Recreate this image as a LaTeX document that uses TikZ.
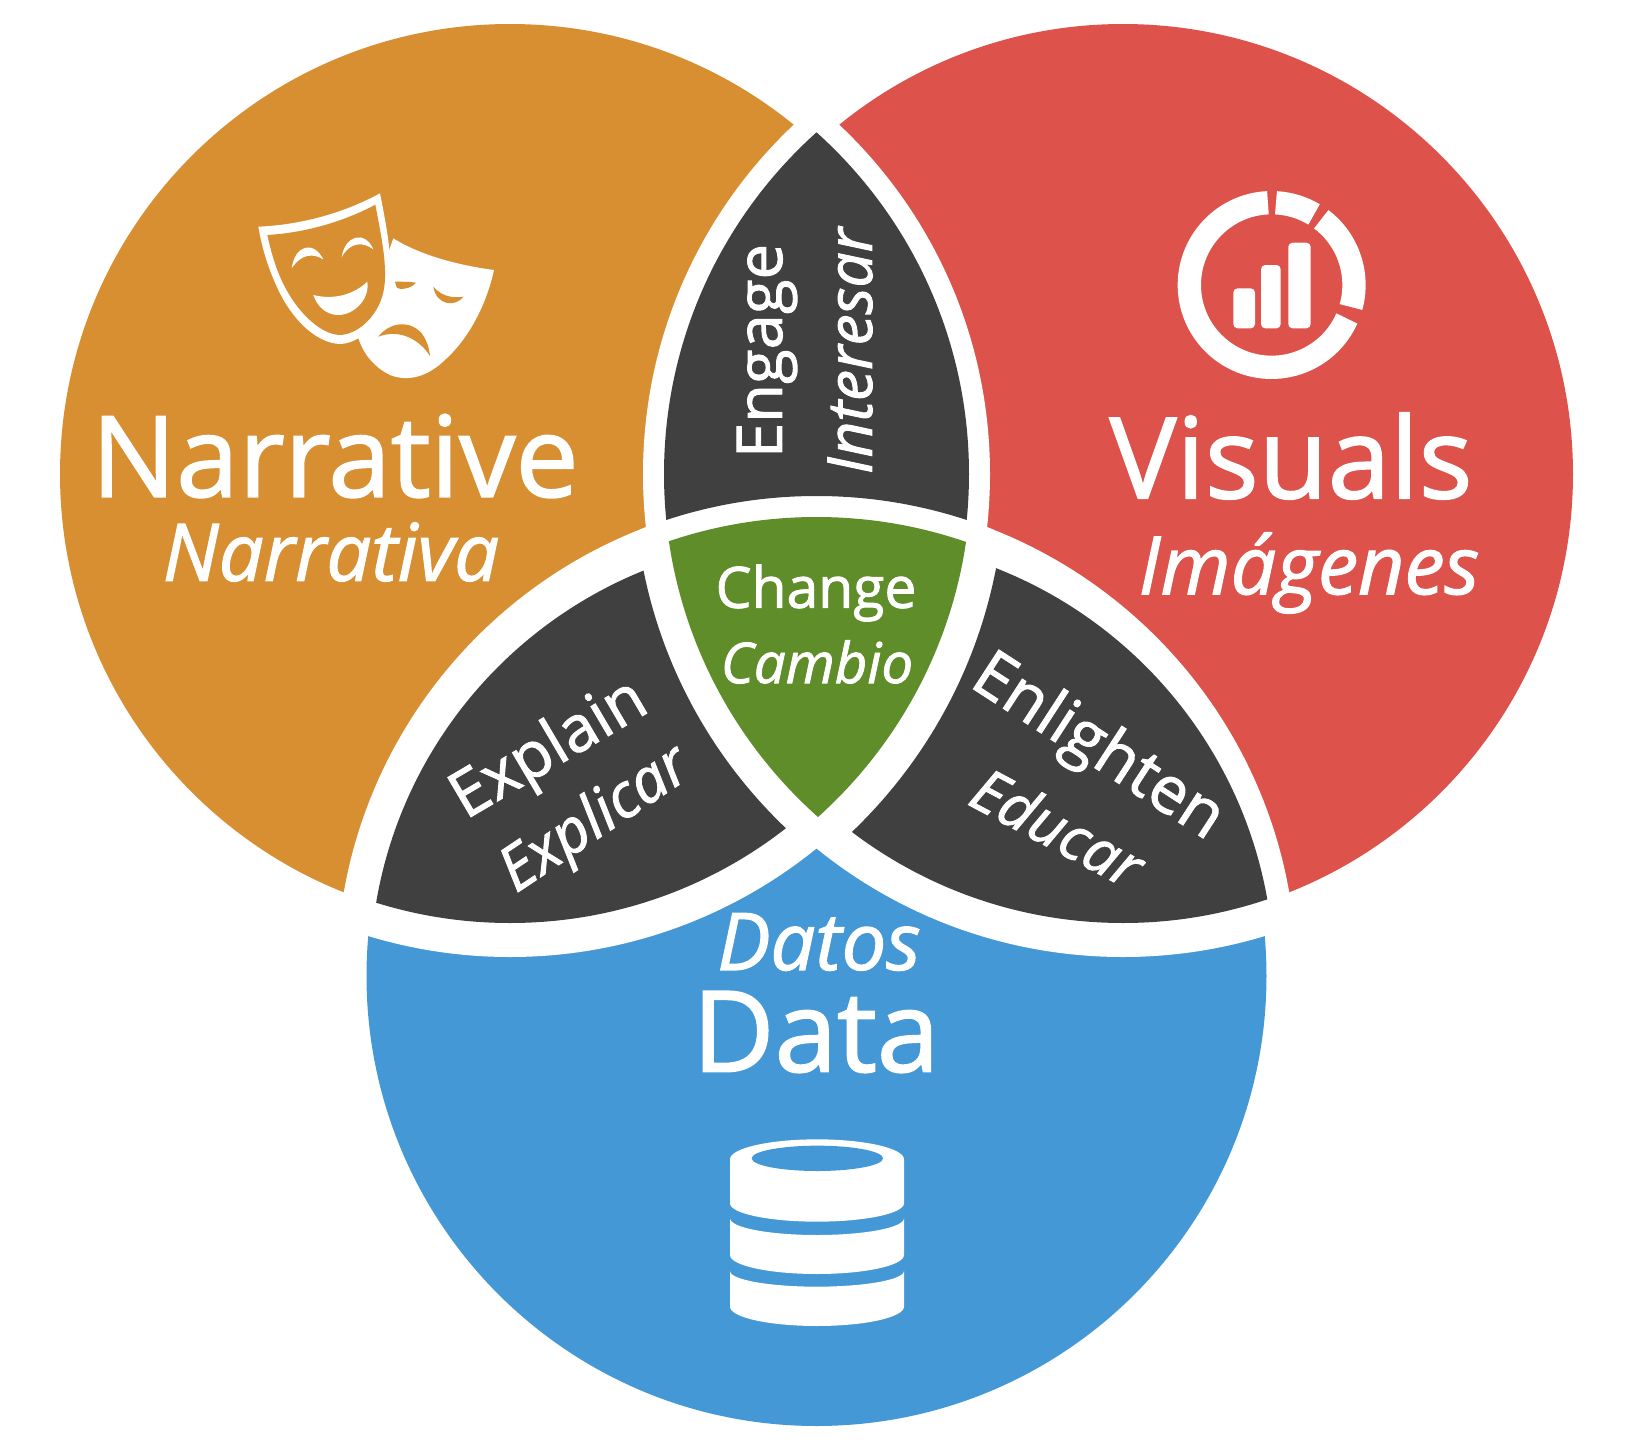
\documentclass[tikz,border=0pt]{standalone}
\usepackage{fontspec}
\setmainfont{Open Sans}[FakeBold=1.5]
\definecolor{narrcol}{HTML}{D78F32}
\definecolor{viscol}{HTML}{DD524B}
\definecolor{datcol}{HTML}{4398D5}
\definecolor{lenscol}{HTML}{404040}
\definecolor{changecol}{HTML}{5F8D29}
\tikzstyle{icon}=[fill=white,draw=none]
\tikzstyle{ringseg}=[draw=white,line width=2.33mm]
\tikzset{upright/.style={text=white,inner sep=0pt,font=\fontsize{#1}{#1}\selectfont},
    slanted/.style={text=white,inner sep=0pt,font=\fontsize{#1}{#1}\selectfont\itshape}}
\newcommand{\discsize}{450}

\begin{document}
\begin{tikzpicture}[x=0.01cm, y=-0.01cm]
    \useasboundingbox (0,0) rectangle (1626,1454);
    \coordinate (narr) at (510,474);
    \coordinate (vis) at (1123,474);
    \coordinate (dat) at (816.5,976);
    \coordinate (narrcut) at (510,470);
    \coordinate (viscut) at (1123,470);
    \coordinate (datleft) at (807,976);
    \coordinate (datright) at (836,976);
    % First we draw the discs
    \foreach \name/\col in {narr/narrcol, vis/viscol, dat/datcol}
        \fill[\col] (\name) circle (\discsize);
    % White between the discs
    \foreach \first/\rfirst/\second in {narr/480/vis, narrcut/487/dat, viscut/487/dat}
    {
        \begin{scope}
            \clip (\first) circle (\rfirst);
            \fill[white] (\second) circle (480);
        \end{scope}
    }
    % Dark petals: inside two circles, outside the third
    \foreach \first/\rfirst/\second/\rsecond/\third/\rthird in
        {narr/459/vis/459/dat/480, narr/449/datleft/437/vis/489, vis/449/datright/438/narr/495}
    {
        \begin{scope}[even odd rule]
            \clip (\first) circle (\rfirst);
            \clip (\second) circle (\rsecond);
            \clip (0,0) rectangle (1626,1454) (\third) circle (\rthird);
            \fill[lenscol] (0,0) rectangle (1626,1454);
        \end{scope}
    }
    % Centre
    \begin{scope}
        \clip (narr) circle (461);
        \clip (vis) circle (459);
        \fill[changecol] (dat) circle (459);
    \end{scope}
    % Masks
    \begin{scope}[shift={(230,170)}, scale=1/3]
        \fill[icon] (490,205) .. controls (570,255) and (680,285) .. (792,300)
            .. controls (770,400) and (720,500) .. (650,565)
            .. controls (590,625) and (530,635) .. (480,615)
            .. controls (430,590) and (400,550) .. (385,505) -- cycle;
        \fill[icon] (85,170) .. controls (210,165) and (340,130) .. (450,70)
            .. controls (470,170) and (490,280) .. (480,350)
            .. controls (470,440) and (400,520) .. (330,522)
            .. controls (260,520) and (190,450) .. (150,370)
            .. controls (115,300) and (95,230) .. cycle;
        \fill[narrcol] (112,195) .. controls (230,188) and (345,153) .. (436,104)
            .. controls (452,190) and (472,280) .. (463,350)
            .. controls (453,430) and (388,493) .. (330,495)
            .. controls (272,493) and (207,430) .. (167,355)
            .. controls (137,300) and (122,240) .. cycle;
        \fill[icon] (185,295) .. controls (195,225) and (250,210) .. (280,268)
            .. controls (250,250) and (215,250) .. cycle;
        \fill[icon] (335,262) .. controls (345,195) and (405,180) .. (430,238)
            .. controls (400,215) and (360,215) .. cycle;
        \fill[icon] (250,375) .. controls (310,390) and (370,375) .. (412,335)
            .. controls (420,390) and (370,435) .. (325,435)
            .. controls (285,435) and (260,405) .. cycle;
        \fill[narrcol] (495,335) .. controls (515,335) and (540,335) .. (558,338)
            .. controls (545,355) and (510,362) .. (500,352) -- cycle;
        \fill[narrcol] (610,350) .. controls (635,380) and (670,385) .. (700,380)
            .. controls (680,410) and (620,410) .. cycle;
        \fill[narrcol] (445,500) .. controls (480,455) and (540,450) .. (575,490)
            .. controls (590,510) and (598,535) .. (600,558)
            .. controls (570,510) and (510,475) .. cycle;
    \end{scope}
    % Chart
    \begin{scope}[shift={(1150,170)}, scale=1/3]
        \coordinate (ringc) at (365,345);
        \foreach \from/\to in {-92.6/-336, -53/15.5, -87/-59}
            \draw[ringseg] ([shift={(\from:247)}]ringc) arc [start angle=\from, end angle=\to, radius=247];
        \foreach \left/\right/\top in {250/315/355, 333/392/285, 415/482/218}
            \fill[icon, rounded corners=1.2pt] (\left,\top) rectangle (\right,475);
    \end{scope}
    % Database
    \begin{scope}[shift={(700,1120)}, scale=1/3]
        \fill[icon] (90,118) arc [start angle=180, end angle=360, x radius=261, y radius=60]
            -- (612,250) arc [start angle=0, end angle=180, x radius=261, y radius=55] -- cycle;
        \fill[datcol] (352,115) ellipse [x radius=197, y radius=38];
        \foreach \top/\bulge/\bot/\low in {295/50/405/57, 453/47/560/58}
            \fill[icon] (90,\top) arc [start angle=180, end angle=0, x radius=261, y radius=\bulge]
                -- (612,\bot) arc [start angle=0, end angle=180, x radius=261, y radius=\low] -- cycle;
    \end{scope}
    % Labels
    \node[upright=32] (narrative) at (335,456) {Narrative};
    \node[slanted=22.6] (narrativa) at (331,552) {Narrativa};
    \node[upright=32] (visuals) at (1291,456) {Visuals};
    \node[slanted=22.9] (imagenes) at (1309,573) {Imágenes};
    \node[upright=32] (data) at (816,1032) {Data};
    \node[slanted=22.6] (datos) at (819,942) {Datos};
    \node[upright=18, rotate=90] (engage) at (767,351) {Engage};
    \node[slanted=17.7, rotate=90] (interesar) at (850,351) {Interesar};
    \node[upright=16.2] (change) at (816,593) {Change};
    \node[slanted=16] (cambio) at (817,662) {Cambio};
    \node[upright=18.2, rotate=30.5] (explain) at (550,751) {Explain};
    \node[slanted=17.4, rotate=33.7] (explicar) at (596,821) {Explicar};
    \node[upright=18.6, rotate=-33] (enlighten) at (1097,749) {Enlighten};
    \node[slanted=17, rotate=-28] (educar) at (1058,827) {Educar};
\end{tikzpicture}
\end{document}
